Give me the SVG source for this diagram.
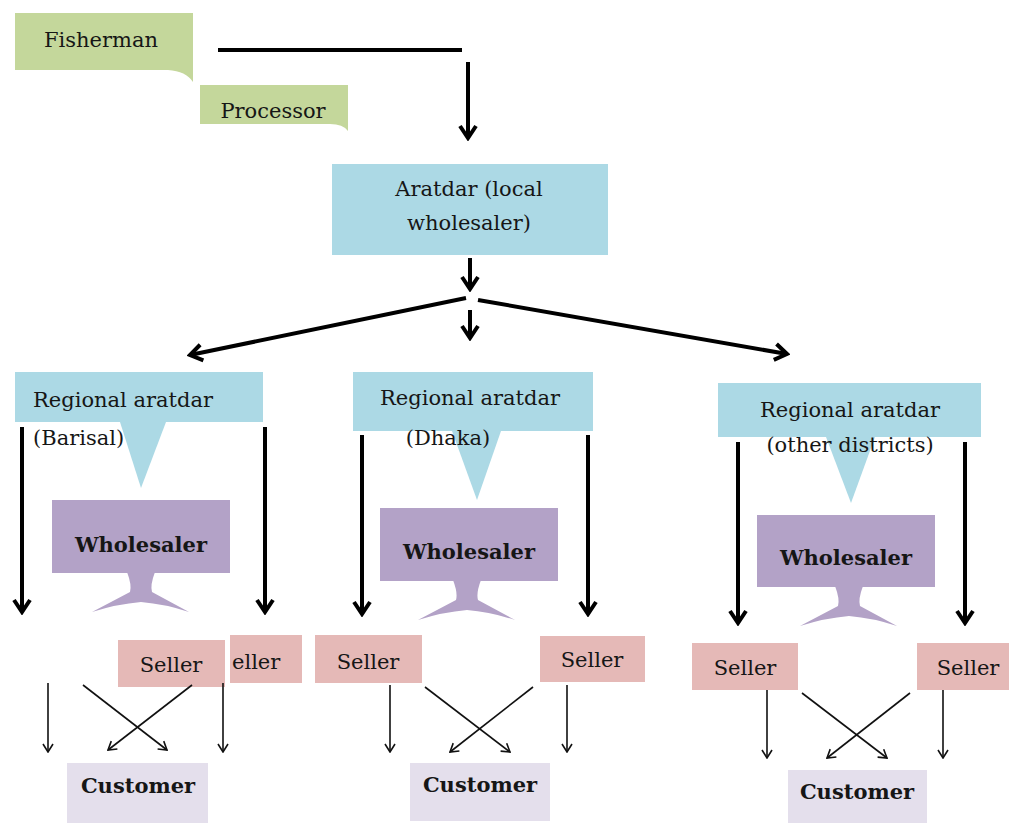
<svg xmlns="http://www.w3.org/2000/svg" width="1009" height="823" viewBox="0 0 1009 823">
<defs>
<style>
.t{font-family:"DejaVu Serif","Liberation Serif",serif;font-size:21px;fill:#161616}
.c{text-anchor:middle}
.b{font-weight:bold}
.green{fill:#c4d79b}
.blue{fill:#acd9e5}
.purple{fill:#b3a2c7}
.pink{fill:#e5b9b7}
.cust{fill:#e4dfec}
.thick{stroke:#000;stroke-width:4;fill:none}
.thin{stroke:#111;stroke-width:1.6;fill:none}
</style>
<marker id="ah" viewBox="0 0 20 20" refX="17" refY="10" markerWidth="20" markerHeight="20" markerUnits="userSpaceOnUse" orient="auto">
<path d="M5,2 L17,10 L5,18" stroke="#000" stroke-width="4" fill="none"/>
</marker>
<marker id="ahs" viewBox="0 0 12 12" refX="11" refY="6" markerWidth="12" markerHeight="12" markerUnits="userSpaceOnUse" orient="auto">
<path d="M3,1 L11,6 L3,11" stroke="#111" stroke-width="1.6" fill="none"/>
</marker>
</defs>
<rect width="1009" height="823" fill="#fff"/>

<g id="fisherman">
<path class="green" d="M15,13 H193 V82 Q186,71 168,70 H15 Z"/>
<text class="t c" x="101" y="47">Fisherman</text>
</g>
<g id="processor">
<path class="green" d="M200,85 H348 V131 Q343,124 330,124 H200 Z"/>
<text class="t c" x="273" y="118">Processor</text>
</g>
<g id="aratdar">
<rect class="blue" x="332" y="164" width="276" height="91"/>
<text class="t c" x="469" y="196">Aratdar (local</text>
<text class="t c" x="469" y="230">wholesaler)</text>
</g>

<g id="regional-barisal">
<rect class="blue" x="15" y="372" width="248" height="50"/>
<polygon class="blue" points="120,422 166,422 141,488"/>
<text class="t" x="33" y="407">Regional aratdar</text>
<text class="t" x="33" y="445">(Barisal)</text>
</g>
<g id="wholesaler-barisal">
<rect class="purple" x="52" y="500" width="178" height="73"/>
<path class="purple" d="M127,572 H155 Q150,585 152,592 L189,612 Q165,604 141,602 Q117,604 92,612 L130,592 Q132,585 127,572 Z"/>
<text class="t c b" x="141" y="552" font-size="20">Wholesaler</text>
</g>

<g id="regional-dhaka">
<rect class="blue" x="353" y="372" width="240" height="59"/>
<polygon class="blue" points="452,431 501,431 477,500"/>
<text class="t c" x="470" y="405">Regional aratdar</text>
<text class="t c" x="448" y="445">(Dhaka)</text>
</g>
<g id="wholesaler-dhaka">
<rect class="purple" x="380" y="508" width="178" height="73"/>
<path class="purple" d="M453,580 H481 Q476,593 478,600 L515,620 Q491,612 467,610 Q443,612 418,620 L456,600 Q458,593 453,580 Z"/>
<text class="t c b" x="469" y="559" font-size="20">Wholesaler</text>
</g>

<g id="regional-other">
<rect class="blue" x="718" y="383" width="263" height="54"/>
<polygon class="blue" points="826,437 875,437 851,503"/>
<text class="t c" x="850" y="417">Regional aratdar</text>
<text class="t c" x="850" y="452">(other districts)</text>
</g>
<g id="wholesaler-other">
<rect class="purple" x="757" y="515" width="178" height="72"/>
<path class="purple" d="M835,586 H863 Q858,599 860,606 L897,626 Q873,618 849,616 Q825,618 800,626 L838,606 Q840,599 835,586 Z"/>
<text class="t c b" x="846" y="565" font-size="20">Wholesaler</text>
</g>

<g id="seller-1b">
<rect class="pink" x="230" y="635" width="72" height="48"/>
<text class="t" x="232" y="669" font-size="19">eller</text>
</g>
<g id="seller-1a">
<rect class="pink" x="118" y="640" width="107" height="47"/>
<text class="t c" x="171" y="672" font-size="19">Seller</text>
</g>
<g id="seller-2a">
<rect class="pink" x="315" y="635" width="107" height="48"/>
<text class="t c" x="368" y="669" font-size="19">Seller</text>
</g>
<g id="seller-2b">
<rect class="pink" x="540" y="636" width="105" height="46"/>
<text class="t c" x="592" y="667" font-size="19">Seller</text>
</g>
<g id="seller-3a">
<rect class="pink" x="692" y="643" width="106" height="47"/>
<text class="t c" x="745" y="675" font-size="19">Seller</text>
</g>
<g id="seller-3b">
<rect class="pink" x="917" y="643" width="92" height="47"/>
<text class="t c" x="968" y="675" font-size="19">Seller</text>
</g>

<g id="customer-1">
<rect class="cust" x="67" y="763" width="141" height="60"/>
<text class="t c b" x="138" y="793" font-size="17">Customer</text>
</g>
<g id="customer-2">
<rect class="cust" x="410" y="763" width="140" height="58"/>
<text class="t c b" x="480" y="792" font-size="17">Customer</text>
</g>
<g id="customer-3">
<rect class="cust" x="788" y="770" width="139" height="53"/>
<text class="t c b" x="857" y="799" font-size="17">Customer</text>
</g>

<g id="connectors">
<line class="thick" x1="218" y1="50" x2="462" y2="50"/>
<line class="thick" x1="468" y1="62" x2="468" y2="138" marker-end="url(#ah)"/>
<line class="thick" x1="470" y1="258" x2="470" y2="289" marker-end="url(#ah)"/>
<line class="thick" x1="466" y1="298" x2="190" y2="355" marker-end="url(#ah)"/>
<line class="thick" x1="478" y1="300" x2="787" y2="354" marker-end="url(#ah)"/>
<line class="thick" x1="470" y1="310" x2="470" y2="338" marker-end="url(#ah)"/>

<line class="thick" x1="22" y1="427" x2="22" y2="612" marker-end="url(#ah)"/>
<line class="thick" x1="265" y1="427" x2="265" y2="612" marker-end="url(#ah)"/>
<line class="thick" x1="362" y1="435" x2="362" y2="614" marker-end="url(#ah)"/>
<line class="thick" x1="588" y1="435" x2="588" y2="614" marker-end="url(#ah)"/>
<line class="thick" x1="738" y1="442" x2="738" y2="623" marker-end="url(#ah)"/>
<line class="thick" x1="965" y1="442" x2="965" y2="623" marker-end="url(#ah)"/>

<line class="thin" x1="48" y1="683" x2="48" y2="752" marker-end="url(#ahs)"/>
<line class="thin" x1="223" y1="683" x2="223" y2="752" marker-end="url(#ahs)"/>
<line class="thin" x1="83" y1="685" x2="167" y2="750" marker-end="url(#ahs)"/>
<line class="thin" x1="192" y1="685" x2="108" y2="750" marker-end="url(#ahs)"/>

<line class="thin" x1="390" y1="685" x2="390" y2="752" marker-end="url(#ahs)"/>
<line class="thin" x1="567" y1="685" x2="567" y2="752" marker-end="url(#ahs)"/>
<line class="thin" x1="425" y1="687" x2="510" y2="752" marker-end="url(#ahs)"/>
<line class="thin" x1="533" y1="687" x2="450" y2="752" marker-end="url(#ahs)"/>

<line class="thin" x1="767" y1="690" x2="767" y2="758" marker-end="url(#ahs)"/>
<line class="thin" x1="943" y1="690" x2="943" y2="758" marker-end="url(#ahs)"/>
<line class="thin" x1="802" y1="693" x2="887" y2="758" marker-end="url(#ahs)"/>
<line class="thin" x1="910" y1="693" x2="827" y2="758" marker-end="url(#ahs)"/>
</g>
</svg>
